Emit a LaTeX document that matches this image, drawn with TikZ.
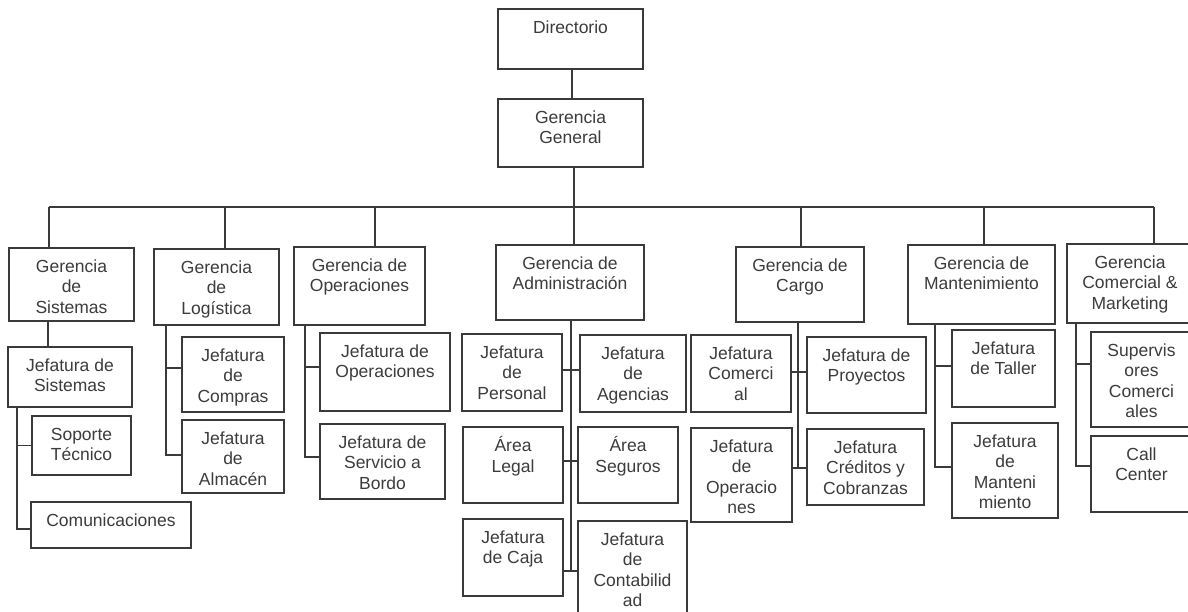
\documentclass[tikz,border=0pt]{standalone}
\usepackage{fontspec}
\setmainfont{Liberation Sans}
\definecolor{lc}{HTML}{3A3A3A}
\definecolor{tc}{HTML}{3C3C3C}
\tikzset{
  box/.style={draw=lc, line width=1.1pt, inner sep=0pt, outer sep=0pt},
  txt/.style={align=center, inner sep=0pt, outer sep=0pt, text=tc, font=\fontsize{17.5}{20.6}\selectfont},
  conn/.style={draw=lc, line width=1.1pt},
}
\newcommand\ob[6]{%
  \node[box, minimum width={(#4-#2)*1pt}, minimum height={(#5-#3)*1pt}] (#1) at ({(#2+#4)/2},{(#3+#5)/2}) {};
  \node[txt, anchor=north] (#1t) at ([yshift=-9.6pt]#1.north) {\strut #6};
}
\begin{document}
\begin{tikzpicture}[x=1pt,y=-1pt]
\useasboundingbox (0,0) rectangle (1188,612);
\clip (0,0) rectangle (1188,612);
\fill[white] (0,0) rectangle (1188,612);
% boxes
\ob{Dir}{498}{9}{643}{69}{Directorio}
\ob{GG}{498}{99}{643}{167}{Gerencia\\General}
\ob{GdS}{9}{248}{134}{321}{Gerencia\\de\\Sistemas}
\ob{GLog}{154}{249}{279}{325}{Gerencia\\de\\Logística}
\ob{GOp}{294}{247}{425}{325}{Gerencia de\\Operaciones}
\ob{GAdm}{496}{245}{644}{320}{Gerencia de\\Administración}
\ob{GCar}{736}{247}{864}{322}{Gerencia de\\Cargo}
\ob{GMan}{908}{245}{1055}{324}{Gerencia de\\Mantenimiento}
\ob{GCom}{1067}{244}{1193}{323}{Gerencia\\Comercial \&\\Marketing}
\ob{JSis}{8}{347}{132}{407}{Jefatura de\\Sistemas}
\ob{Sop}{32}{416}{131}{475}{Soporte\\Técnico}
\ob{Com}{31}{502}{191}{548}{Comunicaciones}
\ob{JComp}{182}{337}{284}{412}{Jefatura\\de\\Compras}
\ob{JAlm}{182}{420}{284}{493}{Jefatura\\de\\Almacén}
\ob{JOp}{320}{333}{450}{411}{Jefatura de\\Operaciones}
\ob{JSer}{320}{424}{445}{499}{Jefatura de\\Servicio a\\Bordo}
\ob{JPer}{462}{334}{562}{411}{Jefatura\\de\\Personal}
\ob{JAge}{580}{335}{686}{412}{Jefatura\\de\\Agencias}
\ob{ALeg}{463}{427}{563}{503}{Área\\Legal}
\ob{ASeg}{578}{427}{678}{503}{Área\\Seguros}
\ob{JCaj}{463}{519}{563}{596}{Jefatura\\de Caja}
\ob{JCon}{578}{521}{687}{640}{Jefatura\\de\\Contabilid\\ad}
\ob{JCmc}{691}{335}{791}{412}{Jefatura\\Comerci\\al}
\ob{JPro}{807}{337}{926}{413}{Jefatura de\\Proyectos}
\ob{JOpc}{691}{428}{792}{522}{Jefatura\\de\\Operacio\\nes}
\ob{JCre}{807}{429}{924}{505}{Jefatura\\Créditos y\\Cobranzas}
\ob{JTal}{952}{330}{1055}{407}{Jefatura\\de Taller}
\ob{JMan}{952}{423}{1058}{518}{Jefatura\\de\\Manteni\\miento}
\ob{Sup}{1091}{332}{1192}{427}{Supervis\\ores\\Comerci\\ales}
\ob{Call}{1091}{436}{1192}{512}{Call\\Center}
% top connectors
\coordinate (b1) at (49,207);
\coordinate (b2) at (225,207);
\coordinate (b3) at (375,207);
\coordinate (b4) at (574,207);
\coordinate (b5) at (801,207);
\coordinate (b6) at (984,207);
\coordinate (b7) at (1154,207);
\draw[conn] (572,0 |- Dir.south) -- (572,0 |- GG.north);
\draw[conn] (b4 |- GG.south) -- (b4);
\draw[conn] (b1) -- (b7);
\draw[conn] (b1) -- (b1 |- GdS.north);
\draw[conn] (b2) -- (b2 |- GLog.north);
\draw[conn] (b3) -- (b3 |- GOp.north);
\draw[conn] (b4) -- (b4 |- GAdm.north);
\draw[conn] (b5) -- (b5 |- GCar.north);
\draw[conn] (b6) -- (b6 |- GMan.north);
\draw[conn] (b7) -- (b7 |- GCom.north);
% Sistemas
\draw[conn] (48,0 |- GdS.south) -- (48,0 |- JSis.north);
\draw[conn] (17,0 |- JSis.south) |- ([yshift=-4pt]Com.west);
\draw[conn] (17,0 |- Sop.west) -- (Sop.west);
% Logistica
\draw[conn] (166,0 |- GLog.south) |- ([yshift=1.5pt]JAlm.west);
\draw[conn] ([yshift=6.5pt]JComp.west) -- ++(-16,0);
% Operaciones
\draw[conn] (305,0 |- GOp.south) |- ([yshift=4.5pt]JSer.west);
\draw[conn] ([yshift=5pt]JOp.west) -- ++(-15,0);
% Administracion
\coordinate (aend) at (571,571);
\draw[conn] (aend |- GAdm.south) -- (aend);
\coordinate (p1) at ([yshift=2.5pt]JPer.east);
\draw[conn] (p1) -- (p1 -| JAge.west);
\coordinate (p2) at ([yshift=4pt]ALeg.east);
\draw[conn] (p2) -- (p2 -| ASeg.west);
\coordinate (p3) at ([yshift=-13.5pt]JCaj.east);
\draw[conn] (p3) -- (p3 -| JCon.west);
% Cargo
\coordinate (q1) at ([yshift=1.5pt]JCmc.east);
\coordinate (q2) at ([yshift=7pt]JOpc.east);
\draw[conn] (798,0 |- GCar.south) -- (798,0 |- q2);
\draw[conn] (q1) -- (q1 -| JPro.west);
\draw[conn] (q2) -- (q2 -| JCre.west);
% Mantenimiento
\draw[conn] (935,0 |- GMan.south) |- ([yshift=3.5pt]JMan.west);
\draw[conn] ([yshift=2.5pt]JTal.west) -- ++(-17,0);
% Comercial
\draw[conn] (1076,0 |- GCom.south) |- ([yshift=8pt]Call.west);
\draw[conn] ([yshift=15.5pt]Sup.west) -- ++(-15,0);
\end{tikzpicture}
\end{document}
